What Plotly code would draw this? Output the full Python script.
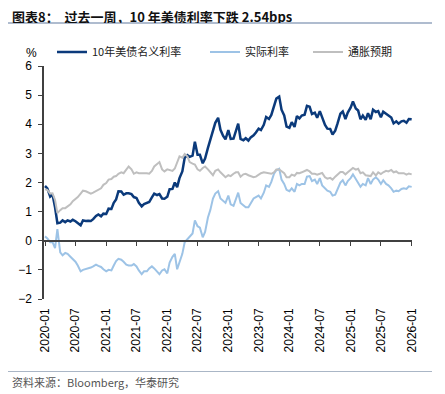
import pandas as pd
import plotly.graph_objects as go

# semi-monthly observation dates (1st and 15th)
dates = pd.date_range("2020-01-01", "2026-01-01", freq="SMS")

nominal = [
    1.88, 1.80, 1.52, 1.59, 1.15, 0.60, 0.62, 0.70, 0.64, 0.70, 0.66, 0.72,
    0.67, 0.62, 0.53, 0.70, 0.68, 0.69, 0.68, 0.74, 0.85, 0.90, 0.84, 0.93,
    0.92, 1.10, 1.09, 1.30, 1.42, 1.70, 1.69, 1.58, 1.63, 1.63, 1.60, 1.50,
    1.47, 1.30, 1.18, 1.26, 1.31, 1.33, 1.49, 1.62, 1.57, 1.60, 1.45, 1.44,
    1.51, 1.77, 1.78, 2.00, 1.84, 2.15, 2.38, 2.85, 2.94, 2.88, 2.92, 3.40,
    2.95, 2.95, 2.66, 2.82, 3.19, 3.45, 3.80, 4.05, 4.22, 3.81, 3.60, 3.48,
    3.80, 3.50, 3.51, 3.80, 4.02, 3.50, 3.45, 3.52, 3.44, 3.55, 3.62, 3.72,
    3.85, 3.80, 3.98, 4.25, 4.18, 4.32, 4.62, 4.88, 4.95, 4.50, 4.30, 3.92,
    3.88, 4.07, 3.91, 4.28, 4.20, 4.30, 4.33, 4.63, 4.60, 4.35, 4.40, 4.22,
    4.45, 4.23, 3.98, 3.85, 3.84, 3.65, 3.78, 4.03, 4.36, 4.44, 4.18, 4.40,
    4.57, 4.78, 4.54, 4.47, 4.17, 4.30, 4.15, 4.38, 4.17, 4.50, 4.42, 4.45,
    4.24, 4.43, 4.35, 4.28, 4.23, 4.03, 4.10, 4.02, 4.10, 4.12, 4.05, 4.18,
    4.17,
]

real = [
    0.15, 0.08, -0.05, -0.05, -0.25, 0.40, -0.40, -0.50, -0.42, -0.45, -0.55, -0.62,
    -0.72, -0.85, -1.05, -1.00, -0.98, -0.95, -0.92, -0.88, -0.82, -0.86, -0.90, -0.98,
    -1.05, -1.00, -1.02, -0.85, -0.70, -0.62, -0.65, -0.72, -0.82, -0.85, -0.85, -0.80,
    -0.88, -1.02, -1.15, -1.05, -1.05, -0.95, -0.88, -0.95, -1.05, -1.15, -1.02, -0.98,
    -1.12, -0.75, -0.55, -0.45, -0.98, -0.70, -0.45, -0.05, 0.05, 0.15, 0.25, 0.70,
    0.50, 0.45, 0.12, 0.30, 0.80, 1.05, 1.45, 1.62, 1.70, 1.45, 1.35, 1.30,
    1.55, 1.25, 1.20, 1.45, 1.65, 1.30, 1.20, 1.15, 1.15, 1.30, 1.45, 1.50,
    1.55, 1.45, 1.65, 1.90, 1.85, 2.02, 2.30, 2.42, 2.47, 2.10, 1.95, 1.75,
    1.70, 1.80, 1.68, 1.95, 1.90, 1.95, 1.95, 2.20, 2.22, 2.05, 2.10, 1.95,
    2.15, 1.90, 1.80, 1.72, 1.68, 1.55, 1.58, 1.75, 2.00, 2.08, 1.90, 2.05,
    2.15, 2.28, 2.10, 2.00, 1.85, 1.95, 1.90, 2.15, 1.95, 2.10, 2.18, 2.10,
    1.95, 2.08, 1.95, 1.90, 1.80, 1.68, 1.72, 1.70, 1.78, 1.80, 1.78, 1.87,
    1.85,
]

breakeven = [
    1.77, 1.75, 1.62, 1.63, 1.40, 0.95, 1.05, 1.12, 1.12, 1.18, 1.25, 1.36,
    1.42, 1.50, 1.62, 1.72, 1.70, 1.66, 1.62, 1.65, 1.70, 1.73, 1.80, 1.92,
    1.98, 2.10, 2.12, 2.20, 2.22, 2.30, 2.35, 2.32, 2.45, 2.55, 2.45, 2.30,
    2.35, 2.32, 2.32, 2.33, 2.32, 2.30, 2.40, 2.55, 2.62, 2.70, 2.45, 2.38,
    2.45, 2.42, 2.40, 2.48, 2.72, 2.90, 2.85, 2.98, 2.90, 2.70, 2.65, 2.62,
    2.45, 2.40, 2.50, 2.55, 2.45, 2.35, 2.25, 2.40, 2.45, 2.35, 2.25, 2.18,
    2.25, 2.22, 2.30, 2.35, 2.35, 2.20, 2.28, 2.30, 2.25, 2.22, 2.18, 2.20,
    2.28, 2.32, 2.35, 2.33, 2.32, 2.30, 2.35, 2.45, 2.45, 2.40, 2.32, 2.18,
    2.18, 2.27, 2.23, 2.33, 2.32, 2.35, 2.38, 2.43, 2.38, 2.30, 2.30, 2.27,
    2.30, 2.33, 2.18, 2.13, 2.16, 2.10, 2.20, 2.28, 2.36, 2.36, 2.28, 2.35,
    2.42, 2.50, 2.44, 2.47, 2.32, 2.35, 2.25, 2.23, 2.22, 2.35, 2.24, 2.35,
    2.29, 2.35, 2.40, 2.38, 2.43, 2.35, 2.38, 2.32, 2.32, 2.32, 2.27, 2.31,
    2.28,
]

series_names = ["10年美债名义利率", "实际利率", "通胀预期"]
y_ticks = [-2, -1, 0, 1, 2, 3, 4, 5, 6]

NAVY = "#0b3a7b"
LIGHT = "#9dc3e6"
GRAY = "#bfbfbf"
AXIS = "#404040"
CJK = "Noto Sans CJK SC"
LAT = "Liberation Sans"

# the page body has an 8px margin, so the figure is placed at (8, 8)
OFF = 8
W, H = 445 - OFF, 394 - OFF
L, R, T, B = 44 - OFF, 445 - 412, 66 - OFF, 394 - 299
pw, ph = W - L - R, H - T - B


def px(xp):
    """page x pixel -> paper fraction"""
    return (xp - OFF - L) / pw


def py(yp):
    """page y pixel -> paper fraction"""
    return (H - B - (yp - OFF)) / ph


fig = go.Figure()
fig.add_trace(go.Scatter(x=dates, y=breakeven, name=series_names[2], mode="lines",
                         line=dict(color=GRAY, width=2), legend="legend3", xaxis="x2"))
fig.add_trace(go.Scatter(x=dates, y=real, name=series_names[1], mode="lines",
                         line=dict(color=LIGHT, width=2), legend="legend2"))
fig.add_trace(go.Scatter(x=dates, y=nominal, name=series_names[0], mode="lines",
                         line=dict(color=NAVY, width=2.5), legend="legend"))

leg_common = dict(orientation="h", xref="container", yref="container",
                  xanchor="left", yanchor="middle", y=1 - (52 - OFF) / H,
                  bgcolor="rgba(0,0,0,0)", font=dict(family=CJK, size=11, color="#222"))

fig.update_layout(
    width=W, height=H,
    margin=dict(l=L, r=R, t=T, b=B, autoexpand=False),
    paper_bgcolor="white", plot_bgcolor="white",
    showlegend=True,
    legend=dict(x=(67 - OFF - 15) / W, **leg_common),
    legend2=dict(x=(220 - OFF - 15) / W, **leg_common),
    legend3=dict(x=(323 - OFF - 15) / W, **leg_common),
    xaxis=dict(
        type="date", range=["2019-12-26", "2026-01-03"],
        tick0="2020-01-01", dtick="M6", tickformat="%Y-%m", tickangle=-90,
        showline=False, ticks="", showgrid=False, zeroline=False,
        ticklabelstandoff=6, automargin=False,
        tickfont=dict(family=LAT, size=12, color="#000"),
    ),
    xaxis2=dict(
        type="date", overlaying="x", matches="x", anchor="free", position=0.25,
        tick0="2020-01-01", dtick="M6",
        showline=True, linecolor=AXIS, linewidth=1.5,
        ticks="outside", ticklen=4, tickcolor=AXIS, tickwidth=1.2,
        showticklabels=False, showgrid=False, zeroline=False,
    ),
    yaxis=dict(
        range=[-2, 6], tickvals=y_ticks,
        showline=True, linecolor=AXIS, linewidth=1.5,
        ticks="outside", ticklen=4, tickcolor=AXIS, tickwidth=1.2,
        showgrid=False, zeroline=False, ticklabelstandoff=4, automargin=False,
        tickfont=dict(family=LAT, size=12, color="#000"),
    ),
)

fig.add_annotation(xref="paper", yref="paper", x=px(10), y=py(16), xanchor="left", yanchor="middle",
                   height=14, valign="middle",
                   text="<b>图表8：  过去一周，10 年美债利率下跌 2.54bps</b>", showarrow=False,
                   font=dict(family=CJK, size=13, color="#111"))
fig.add_shape(type="line", xref="paper", yref="paper", x0=px(OFF), x1=px(432), y0=py(23), y1=py(23),
              line=dict(color="#94a6bf", width=1.5))
fig.add_annotation(xref="paper", yref="paper", x=px(31), y=py(52.5), xanchor="center", yanchor="middle",
                   text="%", showarrow=False, font=dict(family=LAT, size=12, color="#000"))
fig.add_shape(type="line", xref="paper", yref="paper", x0=px(OFF), x1=px(432), y0=py(371.5), y1=py(371.5),
              line=dict(color="#aab6c6", width=1))
fig.add_annotation(xref="paper", yref="paper", x=px(10), y=py(382), xanchor="left", yanchor="middle",
                   text="资料来源：Bloomberg，华泰研究", showarrow=False,
                   font=dict(family=CJK, size=11, color="#555"))

fig.write_html("out.html")
